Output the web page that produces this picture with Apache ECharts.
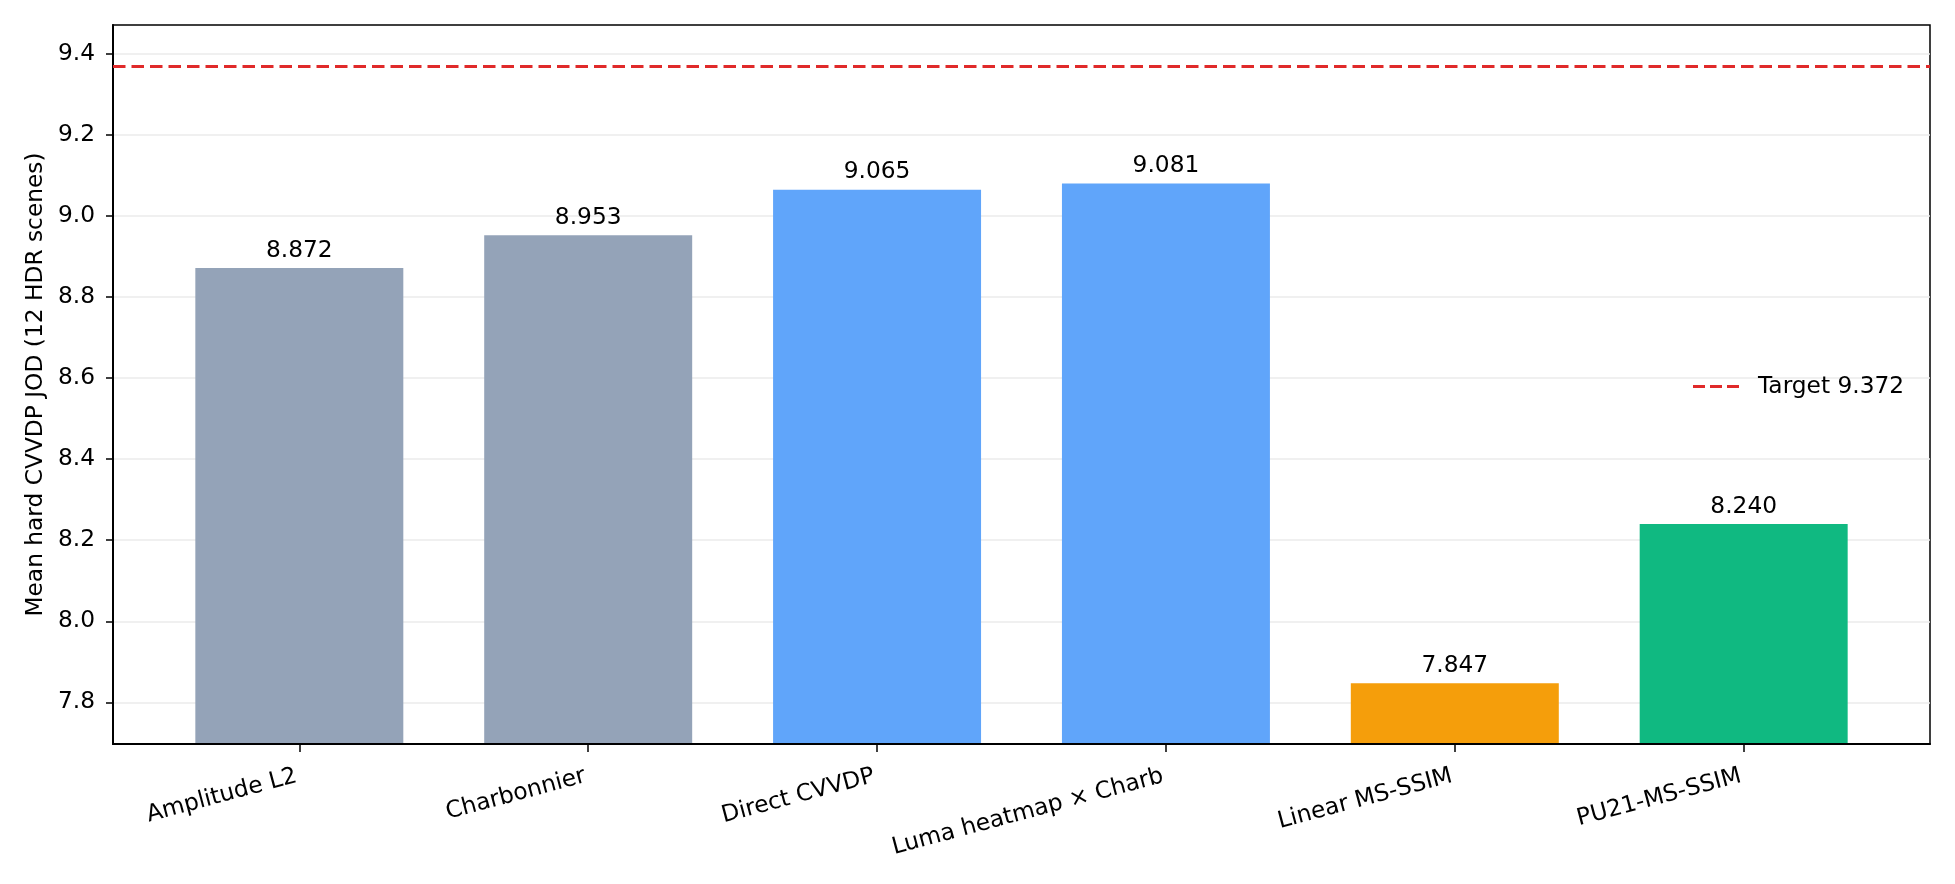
<!DOCTYPE html>
<html>
<head>
    <meta charset="utf-8">
    <title>Mean hard CVVDP JOD</title>
    <script src="https://cdn.jsdelivr.net/npm/echarts@6/dist/echarts.min.js"></script>
    <style>
        html, body { margin: 0; padding: 0; background: #fff; }
        #main { width: 1955px; height: 884px; }
    </style>
</head>
<body>
<div id="main"></div>
<script type="text/javascript">
    // data
    var methods = ['Amplitude L2', 'Charbonnier', 'Direct CVVDP', 'Luma heatmap × Charb', 'Linear MS-SSIM', 'PU21-MS-SSIM'];
    var jodValues = [8.872, 8.953, 9.065, 9.081, 7.847, 8.240];
    var target = 9.372;
    var yTicks = [7.8, 8.0, 8.2, 8.4, 8.6, 8.8, 9.0, 9.2, 9.4];
    var xTicks = [0, 1, 2, 3, 4, 5];

    var barColors = ['#94a3b8', '#94a3b8', '#60a5fa', '#60a5fa', '#f59e0b', '#10b981'];
    var font = 'DejaVu Sans';
    var fs = 23.3;

    var barData = [];
    for (var i = 0; i < jodValues.length; i++) {
        barData.push({ value: [i, jodValues[i]], itemStyle: { color: barColors[i] } });
    }

    var option = {
        backgroundColor: '#ffffff',
        animation: false,
        textStyle: { fontFamily: font },
        grid: {
            left: 113, right: 25, top: 25, bottom: 140,
            show: true,
            borderColor: '#000',
            borderWidth: 1.5,
            backgroundColor: 'transparent'
        },
        legend: {
            left: 1688,
            top: 370,
            itemWidth: 46,
            itemHeight: 3,
            textStyle: { fontFamily: font, fontSize: fs, color: '#000', padding: [0, 0, 0, 14] },
            data: [{
                name: 'Target ' + target.toFixed(3),
                icon: 'path://M0,0h12v3h-12z M17,0h12v3h-12z M34,0h12v3h-12z'
            }]
        },
        xAxis: {
            type: 'value',
            min: -0.645,
            max: 5.645,
            z: 5,
            splitLine: { show: false },
            axisLine: { show: true, onZero: false, lineStyle: { color: '#000', width: 2 } },
            axisTick: { show: true, length: 8, customValues: xTicks, lineStyle: { color: '#000', width: 1.5 } },
            axisLabel: {
                customValues: xTicks,
                rotate: 15,
                margin: 31,
                padding: [0, 3, 0, 0],
                fontFamily: font,
                fontSize: fs,
                color: '#000',
                formatter: function (v) { return methods[Math.round(v)] || ''; }
            }
        },
        yAxis: {
            type: 'value',
            min: 7.697,
            max: 9.472,
            name: 'Mean hard CVVDP JOD (12 HDR scenes)',
            nameLocation: 'middle',
            nameGap: 64,
            nameTextStyle: { fontFamily: font, fontSize: fs, color: '#000' },
            axisLine: { show: true, onZero: false, lineStyle: { color: '#000', width: 2 } },
            axisTick: { show: true, length: 7, customValues: yTicks, lineStyle: { color: '#000', width: 1.5 } },
            axisLabel: {
                customValues: yTicks,
                margin: 18,
                fontFamily: font,
                fontSize: fs,
                color: '#000',
                formatter: function (v) { return v.toFixed(1); }
            },
            splitLine: { show: true, lineStyle: { color: '#ebebeb', width: 1.5 } }
        },
        series: [
            {
                name: 'JOD',
                type: 'bar',
                barWidth: '72%',
                data: barData,
                label: {
                    show: true,
                    position: 'top',
                    distance: 6,
                    fontFamily: font,
                    fontSize: fs,
                    color: '#000',
                    formatter: function (p) { return p.value[1].toFixed(3); }
                },
                markLine: {
                    silent: true,
                    symbol: 'none',
                    label: { show: false },
                    lineStyle: { color: '#e02a2a', type: [12.5, 6], width: 3.2 },
                    data: [{ yAxis: target }]
                }
            },
            {
                name: 'Target ' + target.toFixed(3),
                type: 'line',
                data: [],
                itemStyle: { color: '#e02a2a' },
                lineStyle: { color: '#e02a2a' }
            }
        ]
    };

    var myChart = echarts.init(document.getElementById('main'));
    myChart.setOption(option);
</script>
</body>
</html>
